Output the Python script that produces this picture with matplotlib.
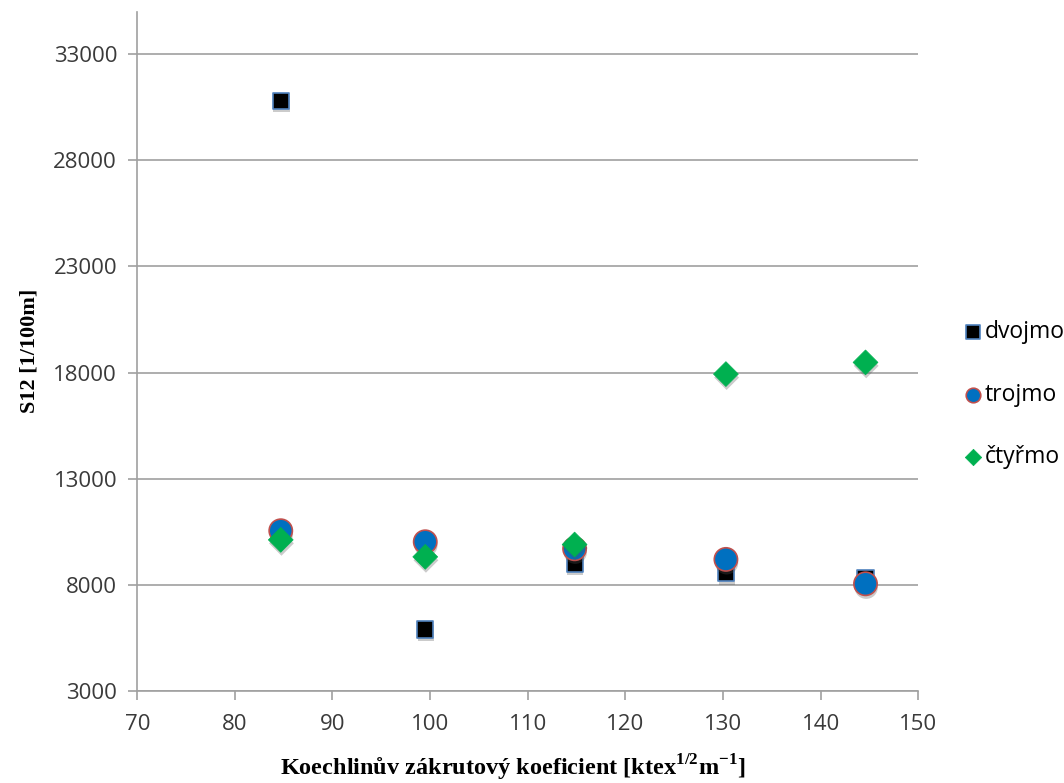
import matplotlib.pyplot as plt
import matplotlib.patheffects as pe

plt.rcParams['font.family'] = ['Open Sans', 'DejaVu Sans']
plt.rcParams['mathtext.fontset'] = 'custom'
plt.rcParams['mathtext.rm'] = 'Liberation Serif:bold'
plt.rcParams['mathtext.bf'] = 'Liberation Serif:bold'

# Koechlin twist coefficient
x_vals = [84.7, 99.5, 114.8, 130.3, 144.6]
dvojmo = [30800, 5900, 9000, 8550, 8300]
trojmo = [10550, 10030, 9700, 9200, 8050]
ctyrmo = [10120, 9320, 9900, 17930, 18480]

fig = plt.figure(figsize=(10.64, 7.83), dpi=100)
ax = fig.add_axes([0.129, 0.1175, 0.734, 0.8675])

shadow = [pe.SimplePatchShadow(offset=(0.5, -2.5), shadow_rgbFace='#555555', alpha=0.3),
          pe.Normal()]

ax.scatter(x_vals, dvojmo, marker='s', s=135, c='black', edgecolors='#4F81BD',
           linewidths=1.2, label='dvojmo', zorder=3, path_effects=shadow)
ax.scatter(x_vals, trojmo, marker='o', s=280, c='#0070C0', edgecolors='#C0504D',
           linewidths=1.2, label='trojmo', zorder=4, path_effects=shadow)
ax.scatter(x_vals, ctyrmo, marker='D', s=160, c='#00B050', edgecolors='#00B050',
           linewidths=0.5, label='čtyřmo', zorder=5, path_effects=shadow)

ax.set_xlim(70, 150)
ax.set_ylim(3000, 35000)
ax.set_xticks(range(70, 151, 10))
ax.set_yticks(range(3000, 33001, 5000))
ax.yaxis.grid(True, color='#A0A0A0', linewidth=1.2)
ax.set_axisbelow(True)

for s in ['top', 'right']:
    ax.spines[s].set_visible(False)
for s in ['left', 'bottom']:
    ax.spines[s].set_color('#A0A0A0')
    ax.spines[s].set_linewidth(1.2)
ax.tick_params(colors='#A0A0A0', length=6.5, width=1.2, labelsize=16,
               labelcolor='#3a3a3a')
ax.tick_params(axis='y', pad=8)
ax.tick_params(axis='x', pad=10)

ax.set_xlabel(r'Koechlinův zákrutový koeficient [ktex$^{1/2}$m$^{-1}$]',
              fontfamily='Liberation Serif', fontweight='bold', fontsize=17.5,
              labelpad=13)
ax.xaxis.label.set_x(0.481)
ax.set_ylabel('S12 [1/100m]', fontfamily='Liberation Serif', fontweight='bold',
              fontsize=16, labelpad=10)

leg = fig.legend(loc='upper left', bbox_to_anchor=(0.895, 0.603), frameon=False,
                 fontsize=16.5, labelspacing=1.68, handletextpad=0.0,
                 handlelength=1.0, borderaxespad=0)
for h, sz in zip(leg.legend_handles, [100, 110, 70]):
    h.set_sizes([sz])
    h.set_path_effects([])

fig.savefig('out.png', dpi=100)
